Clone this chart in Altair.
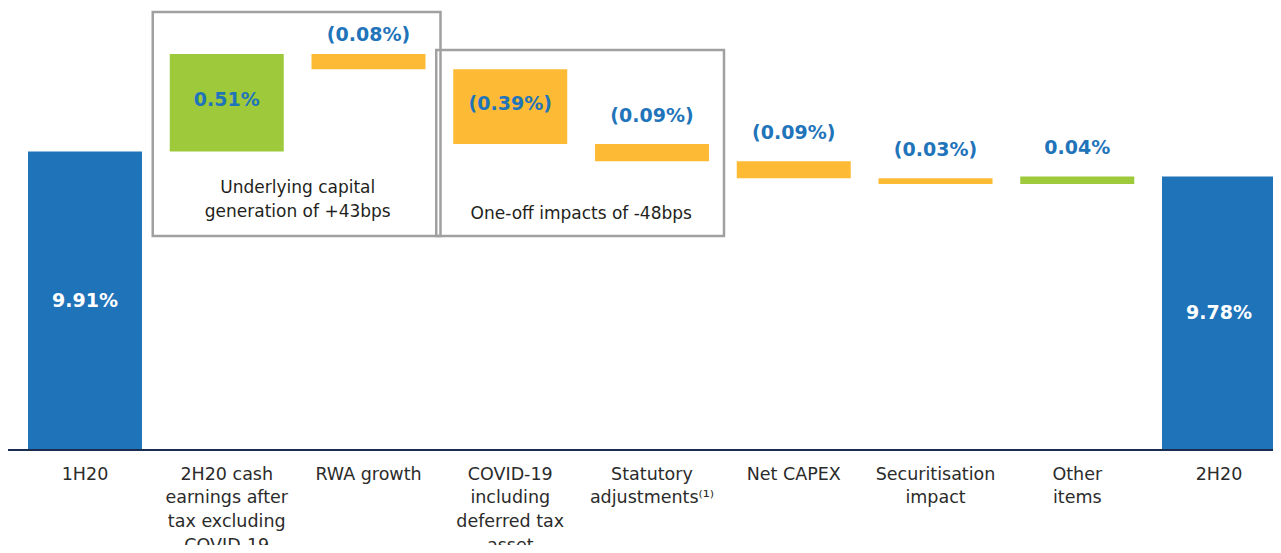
import altair as alt
import pandas as pd

# ---------------- data ----------------
categories = [
    "1H20",
    "2H20 cash\nearnings after\ntax excluding\nCOVID-19",
    "RWA growth",
    "COVID-19\nincluding\ndeferred tax\nasset",
    "Statutory\nadjustments\u207d\u00b9\u207e",
    "Net CAPEX",
    "Securitisation\nimpact",
    "Other\nitems",
    "2H20",
]
kinds = ["total", "delta", "delta", "delta", "delta", "delta", "delta", "delta", "total"]
values = [9.91, 0.51, -0.08, -0.39, -0.09, -0.09, -0.03, 0.04, 9.78]

box_start = ["2H20 cash\nearnings after\ntax excluding\nCOVID-19",
             "COVID-19\nincluding\ndeferred tax\nasset"]
box_end = ["RWA growth", "Statutory\nadjustments\u207d\u00b9\u207e"]
box_top = [10.640, 10.441]
box_bottom = [9.4685, 9.4685]
box_text = ["Underlying capital\ngeneration of +43bps", "One-off impacts of -48bps"]

Y_MIN, Y_MAX = 8.349, 10.661

# ---------------- build waterfall table ----------------
rows = []
running = 0.0
for c, k, v in zip(categories, kinds, values):
    if k == "total":
        start, end = Y_MIN, v
        running = v
        label = f"{v:.2f}%"
        kind = "total"
    else:
        start = running
        end = running + v
        running = end
        label = f"{v:.2f}%" if v >= 0 else f"({abs(v):.2f}%)"
        kind = "up" if v >= 0 else "down"
    inside = (k == "total") or abs(v) >= 0.3
    rows.append(dict(cat=c, start=start, end=end, top=max(start, end),
                     mid=(start + end) / 2, label=label, kind=kind,
                     inside=inside, small_gap=(c == "RWA growth")))
df = pd.DataFrame(rows)
boxes = pd.DataFrame(dict(start=box_start, end=box_end, top=box_top,
                          bottom=box_bottom, text=box_text))
boxes["multi"] = boxes["text"].str.contains("\n")

FONT = "DejaVu Sans"
BLUE_TXT = "#1f74ba"

xscale = alt.Scale(domain=categories, paddingInner=0.1958, paddingOuter=0,
                   range=[20, 1268], round=False)
yscale = alt.Scale(domain=[Y_MIN, Y_MAX], zero=False, nice=False)

x = alt.X("cat:N", sort=categories, scale=xscale,
          axis=alt.Axis(title=None, ticks=False, domain=False,
                        labelAngle=0, labelFontSize=17.5, labelFont=FONT,
                        labelColor="#2b2b2b", labelLineHeight=23.7, labelPadding=15,
                        labelBaseline="top", labelOverlap=False, labelLimit=300,
                        labelExpr="split(datum.label, '\\n')"))

base = alt.Chart(df)
xc = alt.X("cat:N", sort=categories, scale=xscale)

bars = base.mark_bar().encode(
    x=x,
    y=alt.Y("start:Q", scale=yscale, axis=None),
    y2="end:Q",
    color=alt.Color("kind:N", scale=alt.Scale(domain=["total", "up", "down"],
                                              range=["#1f73b9", "#9dc93b", "#fdbb35"]),
                    legend=None),
)

baseline = alt.Chart(df).mark_rule(color="#1b2d4f", strokeWidth=1.5).encode(
    y=alt.datum(Y_MIN)
)

lab = dict(font=FONT, fontSize=19, fontWeight="bold", baseline="middle")

total_labels = base.transform_filter("datum.kind == 'total'").mark_text(
    color="white", **lab
).encode(x=xc, y=alt.Y("mid:Q", scale=yscale), text="label:N")

inside_labels = base.transform_filter("datum.kind != 'total' && datum.inside").mark_text(
    color=BLUE_TXT, dy=-3, **lab
).encode(x=xc, y=alt.Y("mid:Q", scale=yscale), text="label:N")

above_labels = base.transform_filter("!datum.inside && !datum.small_gap").mark_text(
    color=BLUE_TXT, dy=-28, **lab
).encode(x=xc, y=alt.Y("top:Q", scale=yscale), text="label:N")

above_labels2 = base.transform_filter("!datum.inside && datum.small_gap").mark_text(
    color=BLUE_TXT, dy=-19, **lab
).encode(x=xc, y=alt.Y("top:Q", scale=yscale), text="label:N")

box_rects = alt.Chart(boxes).mark_rect(
    fill=None, fillOpacity=0, stroke="#a0a0a0", strokeWidth=2.5, xOffset=-17, x2Offset=15
).encode(
    x=alt.X("start:N", sort=categories, scale=xscale, bandPosition=0),
    x2=alt.X2("end:N", bandPosition=1),
    y=alt.Y("top:Q", scale=yscale),
    y2="bottom:Q",
)

box_enc = dict(
    x=alt.X("start:N", sort=categories, scale=xscale, bandPosition=1),
    y=alt.Y("bottom:Q", scale=yscale),
    text="text:N",
)
box_txt = dict(font=FONT, fontSize=17, color="#231f20", baseline="middle",
               lineBreak="\n", lineHeight=24, dx=14)

box_labels_multi = alt.Chart(boxes).transform_filter("datum.multi").mark_text(
    dy=-48, **box_txt).encode(**box_enc)
box_labels_single = alt.Chart(boxes).transform_filter("!datum.multi").mark_text(
    dy=-22, **box_txt).encode(**box_enc)

chart = alt.layer(
    bars, baseline, total_labels, inside_labels, above_labels, above_labels2, box_rects,
    box_labels_multi, box_labels_single
).properties(
    width=1265, height=442,
    padding={"left": 0, "top": 0, "right": 0, "bottom": 95},
    autosize=alt.AutoSizeParams(type="none"),
    background="white",
).configure_view(stroke=None)

chart.save("out.html", embed_options={"renderer": "svg", "actions": False})
